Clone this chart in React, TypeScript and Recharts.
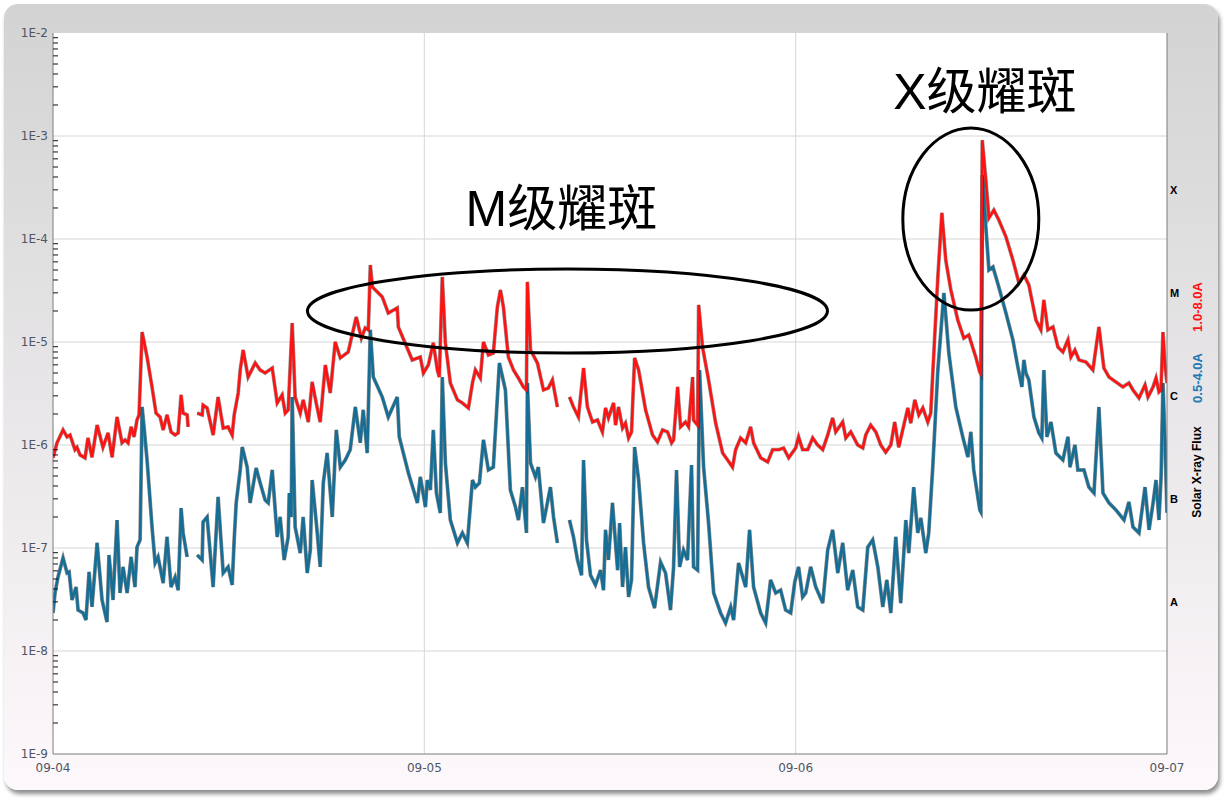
import { CartesianGrid, Line, LineChart, ReferenceDot, XAxis, YAxis } from "recharts";

// hours since 09-04 00:00 UT
const DAY_TICKS = [0, 24, 48, 72];
const DAY_LABELS = ["09-04", "09-05", "09-06", "09-07"];

const DECADES = [1e-9, 1e-8, 1e-7, 1e-6, 1e-5, 1e-4, 1e-3, 1e-2];
const MINOR_STEPS = [1, 2, 3, 4, 5, 6, 7, 8, 9];
const CLASS_TICKS = [3e-4, 3e-5, 3e-6, 3e-7, 3e-8];
const CLASS_LABELS = ["X", "M", "C", "B", "A"];

const AXIS_TITLE = "Solar X-ray Flux";
const LONG_NAME = "1.0-8.0A";
const SHORT_NAME = "0.5-4.0A";

// 1.0-8.0A channel (red)
const LONG_T = [
  0, 0.26, 0.65, 0.91, 1.1, 1.42, 1.55, 1.75, 2.07, 2.26,
  2.52, 2.85, 3.23, 3.56, 3.82, 4.14, 4.46, 4.66, 4.85, 5.05,
  5.24, 5.43, 5.56, 5.76, 6.08, 6.4, 6.66, 6.92, 7.12, 7.37,
  7.63, 7.89, 8.09, 8.28, 8.41, 8.67, 8.73, 9.0, 9.32, 9.64,
  9.7, 9.96, 10.35, 10.67, 11.0, 11.32, 11.58, 11.71, 11.97, 12.1,
  12.29, 12.61, 13.07, 13.39, 13.71, 14.17, 14.49, 14.81, 15.01, 15.2,
  15.46, 15.65, 15.98, 16.17, 16.5, 16.75, 17.01, 17.27, 17.6, 17.92,
  18.24, 18.57, 19.08, 19.6, 19.93, 20.18, 20.38, 20.51, 20.64, 21.28,
  21.67, 22.25, 22.32, 23.22, 23.74, 23.94, 24.26, 24.58, 24.84, 24.97,
  25.16, 25.36, 25.68, 26.14, 26.46, 26.85, 27.11, 27.3, 27.62, 27.82,
  28.14, 28.46, 28.72, 28.92, 29.11, 29.43, 29.76, 30.08, 30.4, 30.6,
  30.66, 30.86, 31.31, 31.7, 32.02, 32.28, 32.6, 33.0, 33.38, 33.64,
  33.96, 34.29, 34.54, 34.87, 35.19, 35.51, 35.71, 35.9, 36.23, 36.36,
  36.55, 36.81, 37.0, 37.2, 37.39, 37.59, 37.85, 38.3, 38.75, 39.07,
  39.4, 39.72, 39.98, 40.11, 40.37, 40.56, 40.88, 41.08, 41.34, 41.4,
  41.66, 41.73, 41.98, 42.37, 42.83, 43.28, 43.6, 43.92, 44.12, 44.44,
  44.77, 45.09, 45.28, 45.74, 46.19, 46.51, 46.9, 47.22, 47.55, 48.0,
  48.19, 48.45, 48.78, 49.1, 49.42, 49.75, 50.07, 50.39, 50.59, 51.04,
  51.24, 51.56, 52.01, 52.34, 52.53, 52.85, 53.18, 53.5, 53.82, 54.15,
  54.4, 54.66, 54.99, 55.25, 55.44, 55.7, 55.96, 56.22, 56.54, 56.73,
  56.93, 57.19, 57.45, 57.7, 58.03, 58.48, 58.87, 59.19, 59.64, 59.9,
  59.97, 60.06, 60.29, 60.49, 60.81, 61.13, 61.59, 62.04, 62.43, 62.75,
  63.07, 63.53, 63.85, 64.04, 64.3, 64.63, 64.95, 65.27, 65.6, 65.79,
  66.05, 66.31, 66.76, 67.21, 67.6, 67.92, 68.25, 68.7, 69.15, 69.54,
  69.8, 70.19, 70.58, 70.77, 71.1, 71.29, 71.48, 71.61, 71.74, 71.87, 72.0,
];
const LONG_FLUX = [
  7.5e-7, 1.05e-6, 1.4e-6, 1.2e-6, 1.25e-6, 9.0e-7, 9.5e-7, 8.0e-7, 7.5e-7, 1.17e-6,
  7.6e-7, 1.56e-6, 9.5e-7, 1.31e-6, 7.6e-7, 1.87e-6, 1.05e-6, 1.12e-6, 1.05e-6, 1.5e-6,
  1.2e-6, 1.75e-6, 1.96e-6, 1.25e-5, 7.15e-6, 3.66e-6, 2.04e-6, 1.87e-6, 1.4e-6, 1.96e-6,
  1.34e-6, 1.25e-6, 1.31e-6, 3.06e-6, 2.04e-6, 1.96e-6, 1.5e-6, null, 2.04e-6, 1.96e-6,
  2.44e-6, 2.29e-6, 1.25e-6, 2.92e-6, 1.46e-6, 1.5e-6, 1.25e-6, 1.96e-6, 3.2e-6, 5.35e-6,
  8.36e-6, 4.57e-6, 6.25e-6, 5.35e-6, 5.0e-6, 5.59e-6, 2.56e-6, 3.06e-6, 2.04e-6, 2.19e-6,
  1.53e-5, 2.92e-6, 2.04e-6, 2.74e-6, 1.67e-6, 4.09e-6, 2.56e-6, 1.67e-6, 5.98e-6, 3.2e-6,
  1.0e-5, 7.0e-6, 8.0e-6, 1.75e-5, 1.09e-5, 1.37e-5, 1.31e-5, 5.59e-5, 3.42e-5, 2.74e-5,
  1.91e-5, 2.14e-5, 1.4e-5, 6.69e-6, 7.15e-6, 5.0e-6, 5.98e-6, 9.8e-6, 5.35e-6, 4.57e-6,
  4.28e-5, 9.8e-6, 4.0e-6, 2.74e-6, 2.56e-6, 2.29e-6, 4.0e-6, 5.35e-6, 4.47e-6, 1.0e-5,
  7.48e-6, 7.8e-6, 2.19e-5, 3.2e-5, 2.19e-5, 7.15e-6, 5.35e-6, 4.47e-6, 3.66e-6, 3.42e-6,
  3.83e-5, 8.36e-6, 6.25e-6, 3.42e-6, 3.58e-6, 4.28e-6, 2.34e-6, null, 2.92e-6, 2.34e-6,
  1.87e-6, 5.59e-6, 2.34e-6, 1.67e-6, 1.75e-6, 1.34e-6, 2.29e-6, 1.83e-6, 2.56e-6, 1.56e-6,
  2.34e-6, 1.46e-6, 1.63e-6, 1.17e-6, 1.34e-6, 7.0e-6, 5.35e-6, 2.19e-6, 1.25e-6, 1.07e-6,
  1.4e-6, 1.34e-6, 1.05e-6, 1.12e-6, 3.66e-6, 1.5e-6, 1.67e-6, 1.5e-6, 4.57e-6, 1.75e-6,
  1.56e-6, 2.29e-5, 8.94e-6, 4.28e-6, 1.63e-6, 8.36e-7, 7.15e-7, 6.1e-7, 9.0e-7, 1.17e-6,
  1.05e-6, 1.5e-6, 1.05e-6, 7.5e-7, 6.85e-7, 9.0e-7, 9.0e-7, 9.35e-7, 7.5e-7, 9.35e-7,
  1.2e-6, 9.0e-7, 9.0e-7, 1.17e-6, 1.0e-6, 9.0e-7, 1.25e-6, 1.83e-6, 1.34e-6, 1.67e-6,
  1.17e-6, 1.34e-6, 1.0e-6, 9.35e-7, 1.25e-6, 1.56e-6, 1.34e-6, 1.0e-6, 8.5e-7, 1.0e-6,
  1.67e-6, 9.5e-7, 1.56e-6, 2.29e-6, 1.63e-6, 2.74e-6, 1.96e-6, 2.29e-6, 1.67e-6, 2.04e-6,
  7.8e-6, 4.28e-5, 1.79e-4, 6.25e-5, 3.2e-5, 1.63e-5, 1.09e-5, 1.17e-5, 7.15e-6, 5.11e-6,
  4.9e-6, 9.1e-4, 3.74e-4, 1.6e-4, 1.91e-4, 1.53e-4, 1.05e-4, 6.25e-5, 3.74e-5, 4.47e-5,
  3.58e-5, 1.63e-5, 1.31e-5, 2.56e-5, 1.31e-5, 1.4e-5, 8.94e-6, 8.0e-6, 1.05e-5, 7.15e-6,
  8.36e-6, 6.69e-6, 6.39e-6, 5.35e-6, 1.4e-5, 5.59e-6, 4.57e-6, 4.09e-6, 3.66e-6, 4.0e-6,
  3.42e-6, 2.86e-6, 3.83e-6, 2.92e-6, 3.66e-6, 4.47e-6, 3.27e-6, 3.42e-6, 1.25e-5, 6.0e-6, 4.0e-6,
];

// 0.5-4.0A channel (blue)
const SHORT_T = [
  0, 0.13, 0.32, 0.65, 0.91, 1.04, 1.23, 1.49, 1.62, 1.94,
  2.13, 2.33, 2.52, 2.85, 3.17, 3.49, 3.62, 3.88, 4.14, 4.33,
  4.53, 4.79, 5.05, 5.3, 5.43, 5.63, 5.76, 6.08, 6.4, 6.6,
  6.79, 7.12, 7.37, 7.63, 7.89, 8.09, 8.28, 8.41, 8.67, 9.0,
  9.32, 9.64, 9.7, 9.96, 10.35, 10.67, 11.0, 11.32, 11.58, 11.71,
  11.84, 12.1, 12.23, 12.55, 12.74, 13.13, 13.39, 13.71, 13.91, 14.17,
  14.49, 14.68, 14.94, 15.2, 15.27, 15.4, 15.46, 15.65, 15.98, 16.17,
  16.43, 16.63, 16.75, 17.08, 17.27, 17.47, 17.72, 18.05, 18.31, 18.57,
  18.89, 19.21, 19.54, 19.86, 20.05, 20.31, 20.51, 20.7, 21.28, 21.67,
  22.25, 22.38, 22.97, 23.55, 23.74, 24.07, 24.19, 24.39, 24.58, 24.78,
  25.03, 25.16, 25.36, 25.68, 26.14, 26.46, 26.78, 27.11, 27.3, 27.56,
  27.82, 28.14, 28.46, 28.85, 29.24, 29.56, 29.89, 30.08, 30.34, 30.6,
  30.66, 30.86, 31.18, 31.37, 31.7, 32.15, 32.35, 32.6, 33.0, 33.38,
  33.64, 33.9, 34.16, 34.29, 34.48, 34.74, 35.06, 35.39, 35.58, 35.71,
  35.9, 36.16, 36.49, 36.62, 36.81, 37.0, 37.2, 37.39, 37.59, 37.85,
  38.17, 38.49, 38.88, 39.27, 39.59, 39.91, 40.11, 40.3, 40.5, 40.75,
  41.01, 41.27, 41.4, 41.66, 41.79, 42.05, 42.37, 42.7, 43.15, 43.47,
  43.8, 43.99, 44.31, 44.77, 45.02, 45.28, 45.74, 46.06, 46.38, 46.71,
  47.03, 47.35, 47.68, 47.94, 48.19, 48.45, 48.65, 48.97, 49.3, 49.75,
  50.07, 50.39, 50.72, 51.04, 51.36, 51.69, 52.01, 52.34, 52.66, 52.98,
  53.31, 53.63, 53.89, 54.15, 54.47, 54.79, 55.12, 55.31, 55.63, 55.89,
  56.09, 56.41, 56.6, 56.86, 57.19, 57.58, 57.9, 58.35, 58.8, 59.13,
  59.32, 59.51, 59.9, 59.97, 60.07, 60.29, 60.49, 60.75, 61.13, 61.59,
  62.04, 62.36, 62.62, 62.75, 62.88, 63.07, 63.4, 63.72, 63.91, 64.04,
  64.24, 64.5, 64.82, 65.27, 65.6, 65.73, 66.05, 66.24, 66.63, 66.95,
  67.28, 67.6, 67.86, 68.25, 68.7, 69.22, 69.54, 69.8, 70.19, 70.58,
  70.84, 71.1, 71.29, 71.48, 71.62, 71.74, 71.87, 72.0,
];
const SHORT_FLUX = [
  2.34e-8, 3.66e-8, 5.2e-8, 8.0e-8, 5.72e-8, 5.85e-8, 3.13e-8, 4.18e-8, 2.5e-8, 2.34e-8,
  2.0e-8, 5.85e-8, 2.68e-8, 1.12e-7, 3.13e-8, 1.91e-8, 8.55e-8, 3.13e-8, 1.87e-7, 3.66e-8,
  6.55e-8, 3.66e-8, 8.2e-8, 4.18e-8, 1.02e-7, 1.2e-7, 2.34e-6, 7.15e-7, 1.6e-7, 7.15e-8,
  8.2e-8, 4.57e-8, 1.28e-7, 4.18e-8, 5.2e-8, 3.9e-8, 2.44e-7, 1.4e-7, 8.2e-8, null,
  8.55e-8, 7.65e-8, 1.79e-7, 2.0e-7, 4.18e-8, 3.13e-7, 5.72e-8, 6.55e-8, 4.38e-8, 1.2e-7,
  2.74e-7, 5.72e-7, 9.55e-7, 6.1e-7, 2.74e-7, 5.98e-7, 4.28e-7, 2.92e-7, 2.74e-7, 5.72e-7,
  1.28e-7, 2.0e-7, 7.65e-8, 1.28e-7, 3.42e-7, 2.0e-7, 2.92e-6, 1.6e-7, 8.94e-8, 2.0e-7,
  5.72e-8, 9.55e-8, 4.57e-7, 1.4e-7, 6.55e-8, 4.28e-7, 8.36e-7, 2.0e-7, 1.4e-6, 6.1e-7,
  7.15e-7, 9.0e-7, 2.34e-6, 1.05e-6, 2.19e-6, 8.36e-7, 1.31e-5, 4.57e-6, 2.92e-6, 1.87e-6,
  2.92e-6, 1.2e-6, 5.35e-7, 2.74e-7, 4.9e-7, 2.5e-7, 4.57e-7, 3.66e-7, 1.4e-6, 3.42e-7,
  2.19e-7, 4.57e-6, 6.69e-7, 1.87e-7, 1.12e-7, 1.4e-7, 1.12e-7, 4.57e-7, 3.9e-7, 4.28e-7,
  1.12e-6, 5.72e-7, 6.1e-7, 6.25e-6, 3.42e-6, 3.66e-7, 2.5e-7, 1.87e-7, 3.9e-7, 1.4e-7,
  4.0e-6, 6.69e-7, 4.9e-7, 6.1e-7, 1.75e-7, 3.9e-7, 2.0e-7, 1.12e-7, null, 1.87e-7,
  1.28e-7, 7.65e-8, 5.45e-8, 7.15e-7, 1.2e-7, 5.45e-8, 4.38e-8, 6.1e-8, 3.9e-8, 1.5e-7,
  7.65e-8, 2.74e-7, 6.1e-8, 1.75e-7, 4.18e-8, 1.02e-7, 3.35e-8, 4.9e-8, 9.55e-7, 4.57e-7,
  1.12e-7, 4.18e-8, 2.61e-8, 7.3e-8, 5.72e-8, 2.5e-8, 6.55e-8, 5.72e-7, 6.55e-8, 9.55e-8,
  7.65e-8, 6.39e-7, 6.55e-8, 6.1e-8, 5.35e-6, 6.1e-7, 1.75e-7, 3.66e-8, 2.34e-8, 1.87e-8,
  2.68e-8, 2.0e-8, 7.15e-8, 4.18e-8, 1.5e-7, 4.18e-8, 2.34e-8, 1.87e-8, 4.9e-8, 3.66e-8,
  3.9e-8, 2.5e-8, 2.34e-8, 4.67e-8, 6.55e-8, 3.35e-8, 3.66e-8, 6.55e-8, 4.18e-8, 2.92e-8,
  9.55e-8, 1.5e-7, 5.72e-8, 1.12e-7, 3.9e-8, 6.1e-8, 2.68e-8, 2.5e-8, 1.02e-7, 1.2e-7,
  6.55e-8, 2.68e-8, 4.9e-8, 2.34e-8, 1.28e-7, 2.92e-8, 1.87e-7, 8.94e-8, 3.9e-7, 1.4e-7,
  1.96e-7, 8.94e-8, 1.4e-7, 6.1e-7, 5.35e-6, 2.99e-5, 7.8e-6, 2.34e-6, 1.2e-6, 7.65e-7,
  1.34e-6, 5.72e-7, 2.34e-7, 2.24e-7, 4.18e-4, 1.31e-4, 5.0e-5, 5.35e-5, 3.42e-5, 1.91e-5,
  1.05e-5, 5.72e-6, 3.66e-6, 6.69e-6, 5.0e-6, 4.28e-6, 1.87e-6, 1.31e-6, 1.17e-6, 5.35e-6,
  1.2e-6, 1.67e-6, 8.36e-7, 7.15e-7, 1.2e-6, 6.1e-7, 1.0e-6, 5.72e-7, 5.72e-7, 3.9e-7,
  3.42e-7, 2.34e-6, 3.42e-7, 2.74e-7, 2.34e-7, 1.87e-7, 2.8e-7, 1.6e-7, 1.4e-7, 3.9e-7,
  1.5e-7, 2.74e-7, 4.57e-7, 1.87e-7, 5.0e-7, 4.0e-6, 1.1e-6, 2.2e-7,
];

const FLARES = [
  { label: "M级耀斑", t: 33.25, flux: 2e-5 },
  { label: "X级耀斑", t: 59.32, flux: 1.56e-4 },
];
// ellipse radii and label offset, in px
const FLARE_OUTLINES = [
  { rx: 260, ry: 42, dx: -6, dy: -102 },
  { rx: 68, ry: 91, dx: 14, dy: -127 },
];

const FLUX_TICKS = DECADES.slice(0, -1)
  .flatMap((d) => MINOR_STEPS.map((k) => k * d))
  .concat(DECADES[DECADES.length - 1]);

const longData = LONG_T.map((t, i) => ({ t, flux: LONG_FLUX[i] }));
const shortData = SHORT_T.map((t, i) => ({ t, flux: SHORT_FLUX[i] }));

const RED = "#ff1212";
const BLUE = "#156e96";
const LABEL_GREY = "#4e5666";
const FRAME = "#7d7d7d";
const LABEL_FONT = "'DejaVu Sans', sans-serif";
const TITLE_FONT = "'Liberation Sans', Arial, sans-serif";
const BIG_FONT = "'Liberation Sans', 'Noto Sans CJK SC', sans-serif";

function isDecade(v: number) {
  const l = Math.log10(v);
  return Math.abs(l - Math.round(l)) < 1e-6;
}

function FluxTick(props: any) {
  const { x, y, payload } = props;
  const v = payload.value;
  const axisX = x + 5;
  if (isDecade(v)) {
    return (
      <text x={x} y={y} textAnchor="end" dominantBaseline="central" fill={LABEL_GREY} fontSize={12} fontFamily={LABEL_FONT}>
        {`1E${Math.round(Math.log10(v))}`}
      </text>
    );
  }
  return <line x1={axisX} x2={axisX + 5} y1={y} y2={y} stroke="#111" strokeWidth={1} />;
}

function FluxTitle(props: any) {
  const vb = props.viewBox;
  const cx = vb.x + 30;
  const items = [
    { text: AXIS_TITLE, color: "#000", cy: vb.y + 439, size: 12 },
    { text: SHORT_NAME, color: "#2278b0", cy: vb.y + 345, size: 13 },
    { text: LONG_NAME, color: RED, cy: vb.y + 274, size: 13 },
  ];
  return (
    <g>
      {items.map((it) => (
        <text
          key={it.text}
          x={cx}
          y={it.cy}
          transform={`rotate(-90 ${cx} ${it.cy})`}
          textAnchor="middle"
          dominantBaseline="central"
          fill={it.color}
          fontSize={it.size}
          fontWeight={700}
          fontFamily={TITLE_FONT}
        >
          {it.text}
        </text>
      ))}
    </g>
  );
}

export default function App() {
  return (
    <div style={{ position: "absolute", left: 0, top: 0, width: 1230, height: 804, overflow: "hidden", background: "#fff" }}>
      <div
        style={{
          position: "absolute",
          left: 4,
          top: 4,
          width: 1214,
          height: 786,
          borderRadius: 14,
          background: "linear-gradient(#d3d3d3, #e8e6e8 50%, #fdf8fb)",
          boxShadow: "2px 4px 4px rgba(0,0,0,0.45)",
        }}
      />
      <div style={{ position: "absolute", left: 0, top: 0 }}>
        <LineChart width={1230} height={804} margin={{ top: 33, right: 0, bottom: 20, left: 0 }}>
          <CartesianGrid
            fill="#fff"
            stroke="#d6d6d6"
            horizontalValues={DECADES.slice(1, -1)}
            verticalValues={DAY_TICKS.slice(1, -1)}
          />
          <XAxis
            dataKey="t"
            type="number"
            domain={[0, 72]}
            ticks={DAY_TICKS}
            interval={0}
            allowDataOverflow
            height={30}
            tickSize={0}
            tickMargin={9}
            tickFormatter={(v) => DAY_LABELS[DAY_TICKS.indexOf(v)]}
            tick={{ fill: LABEL_GREY, fontSize: 12, fontFamily: LABEL_FONT }}
            axisLine={{ stroke: FRAME }}
          />
          <XAxis
            xAxisId="top"
            orientation="top"
            type="number"
            domain={[0, 72]}
            height={0}
            tick={false}
            tickLine={false}
            axisLine={{ stroke: FRAME }}
          />
          <YAxis
            type="number"
            scale="log"
            domain={[1e-9, 1e-2]}
            ticks={FLUX_TICKS}
            interval={0}
            allowDataOverflow
            width={53}
            tickSize={0}
            tickMargin={5}
            tickLine={false}
            tick={<FluxTick />}
            axisLine={{ stroke: FRAME }}
          />
          <YAxis
            yAxisId="class"
            orientation="right"
            type="number"
            scale="log"
            domain={[1e-9, 1e-2]}
            ticks={CLASS_TICKS}
            interval={0}
            allowDataOverflow
            width={63}
            tickSize={0}
            tickMargin={3}
            tickLine={false}
            tickFormatter={(v) => CLASS_LABELS[CLASS_TICKS.indexOf(v)]}
            tick={{ fill: "#000", fontSize: 11, fontWeight: 700, fontFamily: TITLE_FONT }}
            axisLine={{ stroke: FRAME }}
            label={(p: any) => <FluxTitle {...p} />}
          />

          <Line data={shortData} dataKey="flux" stroke="rgba(0,0,0,0.45)" strokeWidth={3.8} dot={false} activeDot={false} isAnimationActive={false} legendType="none" />
          <Line data={shortData} dataKey="flux" name={SHORT_NAME} stroke={BLUE} strokeWidth={2.6} dot={false} activeDot={false} isAnimationActive={false} />
          <Line data={longData} dataKey="flux" stroke="rgba(0,0,0,0.4)" strokeWidth={3.8} dot={false} activeDot={false} isAnimationActive={false} legendType="none" />
          <Line data={longData} dataKey="flux" name={LONG_NAME} stroke={RED} strokeWidth={2.6} dot={false} activeDot={false} isAnimationActive={false} />

          {FLARES.map((f, i) => {
            const o = FLARE_OUTLINES[i];
            return (
              <ReferenceDot
                key={f.label}
                x={f.t}
                y={f.flux}
                ifOverflow="visible"
                shape={(p: any) => (
                  <g>
                    <ellipse cx={p.cx} cy={p.cy} rx={o.rx} ry={o.ry} fill="none" stroke="#000" strokeWidth={3} />
                    <text
                      x={p.cx + o.dx}
                      y={p.cy + o.dy}
                      textAnchor="middle"
                      dominantBaseline="central"
                      fontSize={50}
                      fontFamily={BIG_FONT}
                      fill="#000"
                    >
                      {f.label}
                    </text>
                  </g>
                )}
              />
            );
          })}
        </LineChart>
      </div>
    </div>
  );
}
